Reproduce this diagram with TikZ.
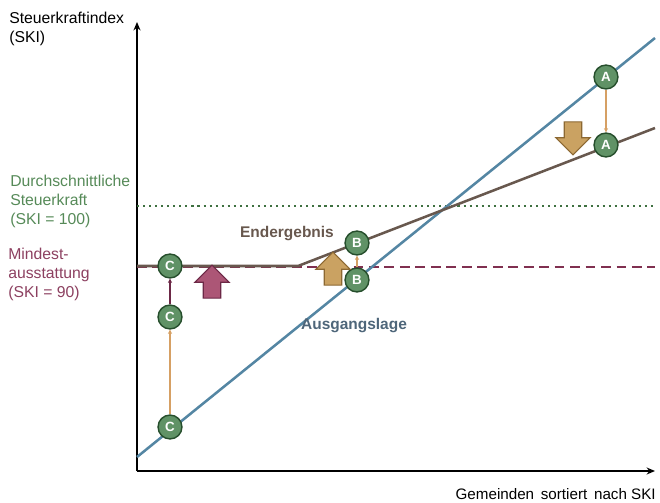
\documentclass[tikz,border=0pt]{standalone}
\usepackage{fontspec}
\setmainfont{Liberation Sans}
\usetikzlibrary{arrows.meta,shapes.arrows}
\definecolor{ski_blue}{RGB}{84, 134, 163}
\definecolor{ski_bluetext}{RGB}{78, 102, 122}
\definecolor{ski_brown}{RGB}{104, 88, 78}
\definecolor{ski_green}{RGB}{86, 138, 88}
\definecolor{ski_dgreen}{RGB}{62, 112, 64}
\definecolor{ski_red}{RGB}{140, 64, 96}
\definecolor{ski_dred}{RGB}{128, 48, 80}
\definecolor{ski_cfill}{RGB}{96, 146, 102}
\definecolor{ski_cdraw}{RGB}{38, 78, 44}
\definecolor{ski_rfill}{RGB}{172, 86, 118}
\definecolor{ski_rdraw}{RGB}{108, 40, 70}
\definecolor{ski_tfill}{RGB}{202, 162, 98}
\definecolor{ski_tdraw}{RGB}{140, 104, 50}
\definecolor{ski_orange}{RGB}{214, 160, 100}
\tikzstyle{cn}=[circle,fill=ski_cfill,draw=ski_cdraw,line width=1pt,inner sep=0pt,
  minimum size=17pt,text=white,font=\fontsize{9.5}{9.5}\selectfont\bfseries]
\tikzstyle{ra}=[single arrow,fill=ski_rfill,draw=ski_rdraw,line width=0.8pt,inner xsep=0pt,
  inner ysep=5.8pt,minimum height=23.5pt,single arrow head extend=6pt]
\tikzstyle{ta}=[single arrow,fill=ski_tfill,draw=ski_tdraw,line width=0.8pt,inner xsep=0pt,
  inner ysep=5.8pt,minimum height=23.5pt,single arrow head extend=6pt]
\tikzstyle{lbl}=[align=left,inner sep=0pt,font=\fontsize{11.2}{13.6}\selectfont]
\tikzstyle{none}=[]
\begin{document}
\begin{tikzpicture}[x=0.025cm, y=-0.025cm]
    \useasboundingbox (0, 0) rectangle (660, 502);
    % axes
    \node [style=none] (0) at (137, 471) {};
    \node [style=none] (1) at (137, 22) {};
    \node [style=none] (2) at (655, 471) {};
    \draw [line width=1.3pt, -{Stealth[length=6pt,width=5pt]}] (0.center) to (1.center);
    \draw [line width=1.3pt, -{Stealth[length=6pt,width=5pt]}] (0.center) to (2.center);
    % reference levels
    \node [style=none] (3) at (137, 206) {};
    \node [style=none] (4) at (655, 206) {};
    \node [style=none] (5) at (137, 267) {};
    \node [style=none] (6) at (655, 267) {};
    \draw [ski_dgreen, line width=1.5pt, dash pattern=on 1.5pt off 2.8pt] (3.center) to (4.center);
    \draw [ski_dred, line width=1.5pt, dash pattern=on 7pt off 4pt] (5.center) to (6.center);
    % Ausgangslage and Endergebnis
    \node [style=none] (7) at (137, 457) {};
    \node [style=none] (8) at (655, 38) {};
    \node [style=none] (9) at (137, 266) {};
    \node [style=none] (10) at (298, 266) {};
    \node [style=none] (11) at (655, 128) {};
    \draw [ski_blue, line width=1.8pt] (7.center) to (8.center);
    \draw [ski_brown, line width=1.8pt] (9.center) to (10.center) to (11.center);
    % municipalities
    \node [style=cn] (12) at (170, 427) {C};
    \node [style=cn] (13) at (170, 317) {C};
    \node [style=cn] (14) at (170, 266) {C};
    \node [style=cn] (15) at (357, 280) {B};
    \node [style=cn] (16) at (357, 243) {B};
    \node [style=cn] (17) at (606, 77) {A};
    \node [style=cn] (18) at (606, 145) {A};
    \draw [ski_orange, line width=0.8pt, -{Stealth[length=3pt,width=3pt]}] (12) to (13);
    \draw [ski_rdraw, line width=0.8pt, -{Stealth[length=3pt,width=3pt]}] (13) to (14);
    \draw [ski_orange, line width=0.8pt, -{Stealth[length=3pt,width=3pt]}] (15) to (16);
    \draw [ski_orange, line width=0.8pt, -{Stealth[length=3pt,width=3pt]}] (17) to (18);
    % block arrows
    \node [style=ra, rotate=90] (19) at (212, 286) {};
    \node [style=ta, rotate=90] (20) at (333, 273) {};
    \node [style=ta, rotate=-90] (21) at (573, 134) {};
    % labels
    \node [style=lbl, anchor=north west] (22) at (9, 12) {Steuerkraftindex\\(SKI)};
    \node [style=lbl, anchor=north west, text=ski_green] (23) at (10, 175) {Durchschnittliche\\Steuerkraft\\(SKI = 100)};
    \node [style=lbl, anchor=north west, text=ski_red] (24) at (8, 248) {Mindest-\\ausstattung\\(SKI = 90)};
    \node [style=lbl, anchor=east, font=\fontsize{10.8}{13.6}\selectfont] (25) at (656, 494) {Gemeinden\, sortiert\, nach SKI};
    \node [style=lbl, text=ski_brown, font=\fontsize{11}{13.6}\selectfont\bfseries] (26) at (287, 234) {Endergebnis};
    \node [style=lbl, text=ski_bluetext, font=\fontsize{11}{13.6}\selectfont\bfseries] (27) at (354, 326) {Ausgangslage};
\end{tikzpicture}
\end{document}
